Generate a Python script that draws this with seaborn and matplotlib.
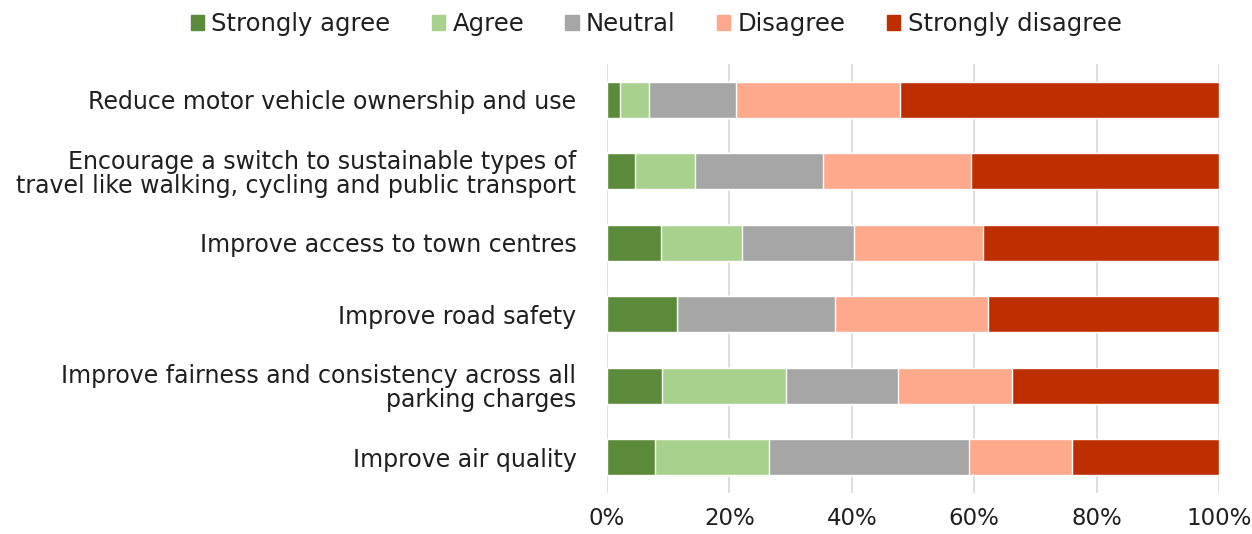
import matplotlib
matplotlib.use("Agg")
import matplotlib.pyplot as plt
import matplotlib.patches as mpatches
import seaborn as sns
import numpy as np
import pandas as pd

categories = [
    "Reduce motor vehicle ownership and use",
    "Encourage a switch to sustainable types of\ntravel like walking, cycling and public transport",
    "Improve access to town centres",
    "Improve road safety",
    "Improve fairness and consistency across all\nparking charges",
    "Improve air quality",
]
series_names = ["Strongly agree", "Agree", "Neutral", "Disagree", "Strongly disagree"]
strongly_agree = [2.2, 4.5, 8.8, 11.4, 9.0, 7.8]
agree = [4.7, 9.9, 13.3, 0.0, 20.3, 18.7]
neutral = [14.2, 20.9, 18.2, 25.9, 18.3, 32.7]
disagree = [26.7, 24.1, 21.2, 25.0, 18.5, 16.8]
strongly_disagree = [52.2, 40.6, 38.5, 37.7, 33.9, 24.0]
colors = ["#5B8A3A", "#A9D18E", "#A6A6A6", "#FFA98C", "#BE2F00"]
xticks = [0, 20, 40, 60, 80, 100]
xtick_labels = ["0%", "20%", "40%", "60%", "80%", "100%"]

sns.set_theme(style="white")
plt.rcParams['font.family'] = ['DejaVu Sans']
text_color = "#1F1F1F"

values = np.array([strongly_agree, agree, neutral, disagree, strongly_disagree])
cum = np.cumsum(values, axis=0)

fig = plt.figure(figsize=(12.52, 5.34), dpi=100)
ax = fig.add_axes([607/1252, 1 - 493/534, 612/1252, (493-64)/534])

for i in range(len(series_names) - 1, -1, -1):
    df = pd.DataFrame({"cat": categories, "val": cum[i]})
    sns.barplot(data=df, x="val", y="cat", color=colors[i], width=0.5,
                saturation=1, ax=ax, zorder=3)

ax.set_xlim(0, 100)
ax.set_ylim(5.5, -0.5)
ax.set_xticks(xticks)
ax.set_xticklabels(xtick_labels, fontsize=16.5, color=text_color)
ax.tick_params(axis='y', labelsize=17, colors=text_color, length=0, pad=22)
ax.tick_params(axis='x', length=0, pad=10, colors=text_color)
for lbl in ax.get_yticklabels():
    lbl.set_linespacing(1.0)
ax.set_xlabel("")
ax.set_ylabel("")
ax.grid(axis='x', color="#D9D9D9", linewidth=1.2, zorder=0)
ax.set_axisbelow(True)
for s in ax.spines.values():
    s.set_visible(False)

handles = [mpatches.Patch(color=c, label=n) for c, n in zip(colors, series_names)]
fig.legend(handles=handles, loc="center", bbox_to_anchor=(656/1252, 1 - 24/534), ncol=5,
           frameon=False, fontsize=17.5, handlelength=0.55, handleheight=0.55,
           handletextpad=0.3, columnspacing=1.7, labelcolor=text_color)

fig.savefig("out.png", dpi=100)
